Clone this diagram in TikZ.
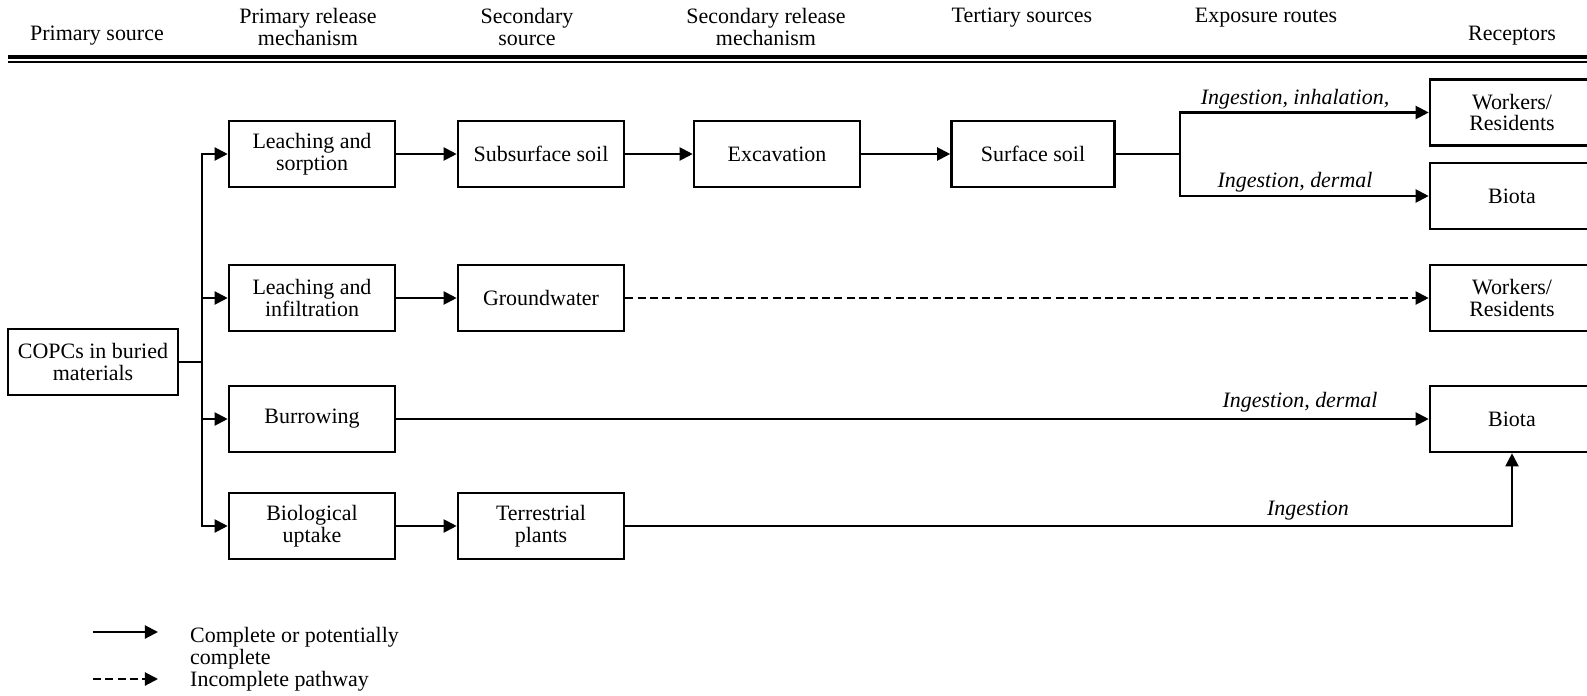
\documentclass[tikz,border=0pt]{standalone}
\usepackage{fontspec}
\setmainfont{Liberation Serif}
\usetikzlibrary{arrows.meta}
\begin{document}
\begin{tikzpicture}[x=0.02cm, y=-0.02cm, >={Triangle[length=7.5pt,width=7.5pt]},
  box/.style={draw, line width=1.5pt, minimum width=3.32cm, minimum height=1.32cm,
    inner sep=1pt, align=center, font=\fontsize{12.5}{12.5}\selectfont},
  head/.style={align=center, font=\fontsize{12.5}{12.5}\selectfont},
  route/.style={font=\fontsize{12.5}{12}\selectfont\itshape}]
  \useasboundingbox (0,0) rectangle (1587,696);
  \clip (0,0) rectangle (1587,696);
  % column heads
  \node[head] (h1) at (97,36) {Primary source};
  \node[head] (h2) at (308,27) {Primary release\\mechanism};
  \node[head] (h3) at (527,27) {Secondary\\source};
  \node[head] (h4) at (766,27) {Secondary release\\mechanism};
  \node[head] (h5) at (1022,18) {Tertiary sources};
  \node[head] (h6) at (1266,18) {Exposure routes};
  \node[head] (h7) at (1512,36) {Receptors};
  \draw[line width=2pt] (8,57) -- (1587,57);
  \draw[line width=1.1pt] (8,62) -- (1587,62);
  % boxes
  \node[box, minimum width=3.4cm] (src) at (93,362) {COPCs in buried\\materials};
  \node[box] (lsorp) at (312,154) {Leaching and\\sorption};
  \node[box] (linf) at (312,298) {Leaching and\\infiltration};
  \node[box] (burrow) at (312,419) {Burrowing};
  \node[box] (bioup) at (312,526) {Biological\\uptake};
  \node[box] (subsoil) at (541,154) {Subsurface soil};
  \node[box] (gw) at (541,298) {Groundwater};
  \node[box] (plants) at (541,526) {Terrestrial\\plants};
  \node[box] (excav) at (777,154) {Excavation};
  \node[box, minimum width=3.26cm] (surf) at (1033,154) {Surface soil};
  \node[box, minimum width=3.28cm] (wr1) at (1512,112.5) {Workers/\\Residents};
  \node[box, minimum width=3.28cm] (biota1) at (1512,196) {Biota};
  \node[box, minimum width=3.28cm] (wr2) at (1512,298) {Workers/\\Residents};
  \node[box, minimum width=3.28cm] (biota3) at (1512,419) {Biota};
  % pathways
  \coordinate (tk) at (202,362);
  \draw[very thick] (src) -- (tk);
  \foreach \b in {lsorp,linf,burrow,bioup}
    \draw[very thick,->] (tk) |- (\b);
  \draw[very thick,->] (lsorp) -- (subsoil);
  \draw[very thick,->] (subsoil) -- (excav);
  \draw[very thick,->] (excav) -- (surf);
  \coordinate (br) at (1180,154);
  \draw[very thick] (surf) -- (br);
  \draw[very thick,->] (br) |- (wr1);
  \draw[very thick,->] (br) |- (biota1);
  \draw[very thick,->] (linf) -- (gw);
  \draw[very thick,->,dash pattern=on 4.5pt off 2.5pt] (gw) -- (wr2);
  \draw[very thick,->] (burrow) -- (biota3);
  \draw[very thick,->] (bioup) -- (plants);
  \draw[very thick,->] (plants) -| (biota3);
  \node[route] (r1) at (1295,99) {Ingestion, inhalation,};
  \node[route] (r2) at (1295,182) {Ingestion, dermal};
  \node[route] (r3) at (1300,402) {Ingestion, dermal};
  \node[route] (r4) at (1308,511) {Ingestion};
  % legend
  \coordinate (s1) at (93,632);
  \coordinate (s2) at (158,632);
  \coordinate (d1) at (93,679);
  \coordinate (d2) at (158,679);
  \draw[very thick,->] (s1) -- (s2);
  \draw[very thick,->,dash pattern=on 4.5pt off 2.5pt] (d1) -- (d2);
  \node[head, anchor=west, align=left] (t1) at (184,648) {Complete or potentially\\complete};
  \node[head, anchor=west] (t2) at (184,681) {Incomplete pathway};
\end{tikzpicture}
\end{document}
